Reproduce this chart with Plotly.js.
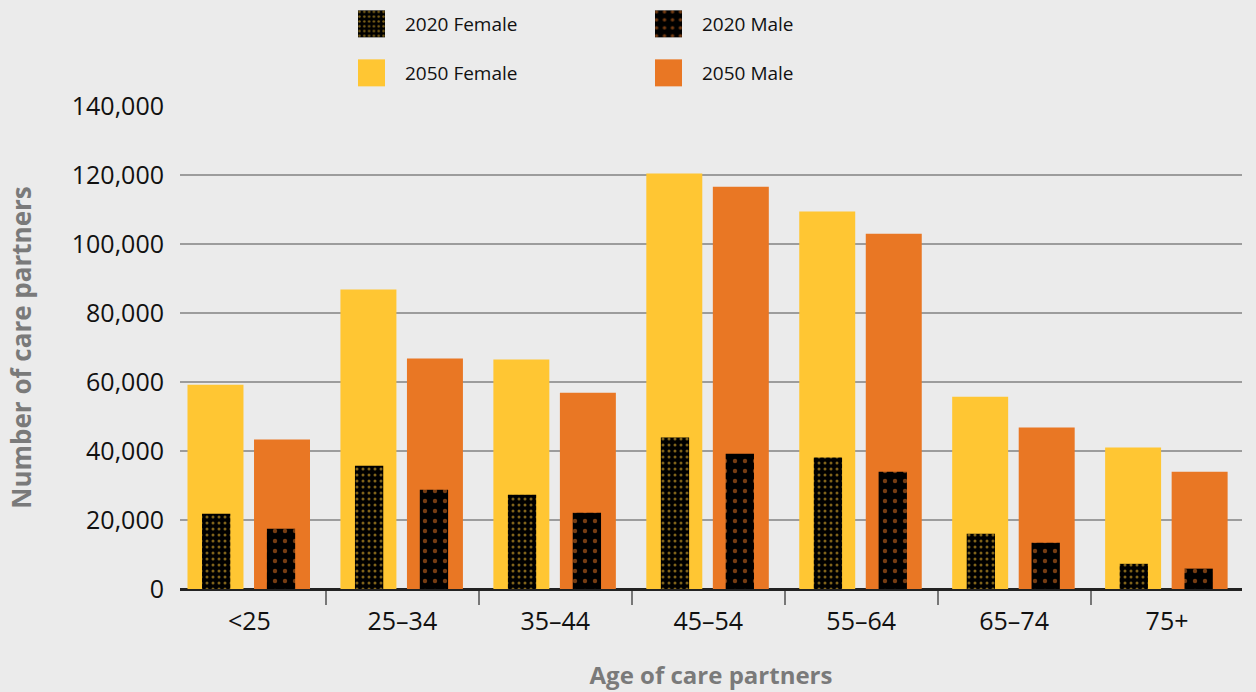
<!DOCTYPE html>
<html>
<head>
<meta charset="utf-8">
<script src="https://cdn.plot.ly/plotly-3.0.1.min.js"></script>
<style>
  html, body { margin: 0; padding: 0; background: #ebebeb; }
  #chart { width: 1256px; height: 692px; }
</style>
</head>
<body>
<div id="chart"></div>
<script>
// ---- Data ----
var categories = ["<25", "25\u201334", "35\u201344", "45\u201354", "55\u201364", "65\u201374", "75+"];
var female2050 = [59200, 86800, 66500, 120400, 109400, 55700, 41000];
var male2050   = [43300, 66800, 56900, 116600, 103000, 46800, 34000];
var female2020 = [21800, 35700, 27300, 43900, 38100, 16000, 7300];
var male2020   = [17500, 28800, 22100, 39200, 34000, 13400, 5900];
var yTickVals  = [0, 20000, 40000, 60000, 80000, 100000, 120000, 140000];
var yTickText  = ["0", "20,000", "40,000", "60,000", "80,000", "100,000", "120,000", "140,000"];

var YELLOW = "#FFC633";
var ORANGE = "#E97724";
var FONT = "Open Sans, sans-serif";

var traces = [
  { type: "bar", name: "2050 Female", x: categories, y: female2050,
    width: 0.366, offset: -0.405,
    marker: { color: YELLOW, line: { width: 0 } },
    legend: "legend2", legendrank: 1, hoverinfo: "skip" },
  { type: "bar", name: "2050 Male", x: categories, y: male2050,
    width: 0.366, offset: 0.03,
    marker: { color: ORANGE, line: { width: 0 } },
    legend: "legend2", legendrank: 2, hoverinfo: "skip" },
  { type: "bar", name: "2020 Female", x: categories, y: female2020,
    width: 0.185, offset: -0.31,
    marker: { color: "#000000", line: { width: 0 },
      pattern: { shape: ".", fgcolor: YELLOW, fillmode: "overlay", size: 6, solidity: 0.2 } },
    legend: "legend", legendrank: 1, hoverinfo: "skip" },
  { type: "bar", name: "2020 Male", x: categories, y: male2020,
    width: 0.185, offset: 0.114,
    marker: { color: "#000000", line: { width: 0 },
      pattern: { shape: ".", fgcolor: ORANGE, fillmode: "overlay", size: 10, solidity: 0.15 } },
    legend: "legend", legendrank: 2, hoverinfo: "skip" }
];

var legendCommon = {
  orientation: "h",
  xref: "container", yref: "container",
  xanchor: "left", yanchor: "middle",
  x: 338 / 1256,
  itemwidth: 57,
  entrywidth: 225,
  font: { family: FONT, size: 19, color: "#111" },
  bgcolor: "rgba(0,0,0,0)",
  borderwidth: 0,
  itemclick: false, itemdoubleclick: false
};

var layout = {
  width: 1256, height: 692,
  paper_bgcolor: "#ebebeb",
  plot_bgcolor: "#ebebeb",
  margin: { l: 180, r: 14, t: 106, b: 103 },
  barmode: "overlay",
  showlegend: true,
  legend: Object.assign({}, legendCommon, { y: 1 - 24 / 692 }),
  legend2: Object.assign({}, legendCommon, { y: 1 - 73 / 692 }),
  xaxis: {
    type: "category",
    range: [-0.454, 6.49],
    tickson: "boundaries",
    ticks: "outside", ticklen: 14, tickwidth: 2, tickcolor: "#777",
    ticklabelstandoff: 9,
    showline: true, linecolor: "#222", linewidth: 2,
    showgrid: false, zeroline: false,
    tickfont: { family: FONT, size: 25, color: "#111" },
    title: { text: "Age of care partners", standoff: 31,
             font: { family: FONT, size: 24, color: "#7a7a7a", weight: "bold" } },
    fixedrange: true
  },
  yaxis: {
    range: [0, 140000],
    tickvals: yTickVals, ticktext: yTickText,
    ticks: "outside", ticklen: 10, tickcolor: "rgba(0,0,0,0)",
    showgrid: true, gridcolor: "#9c9c9c", gridwidth: 1.5,
    zeroline: true, zerolinecolor: "#222", zerolinewidth: 2,
    showline: false,
    tickfont: { family: FONT, size: 25, color: "#111" },
    title: { text: "Number of care partners", standoff: 32,
             font: { family: FONT, size: 26, color: "#7a7a7a", weight: "bold" } },
    fixedrange: true
  },
  font: { family: FONT }
};

Plotly.newPlot("chart", traces, layout, { displayModeBar: false }).then(function (gd) {
  var paths = gd.querySelectorAll(".legendpoints path");
  paths.forEach(function (p) {
    p.setAttribute("d", "M13.5,13.5H-13.5V-13.5H13.5Z");
  });
});
</script>
</body>
</html>
